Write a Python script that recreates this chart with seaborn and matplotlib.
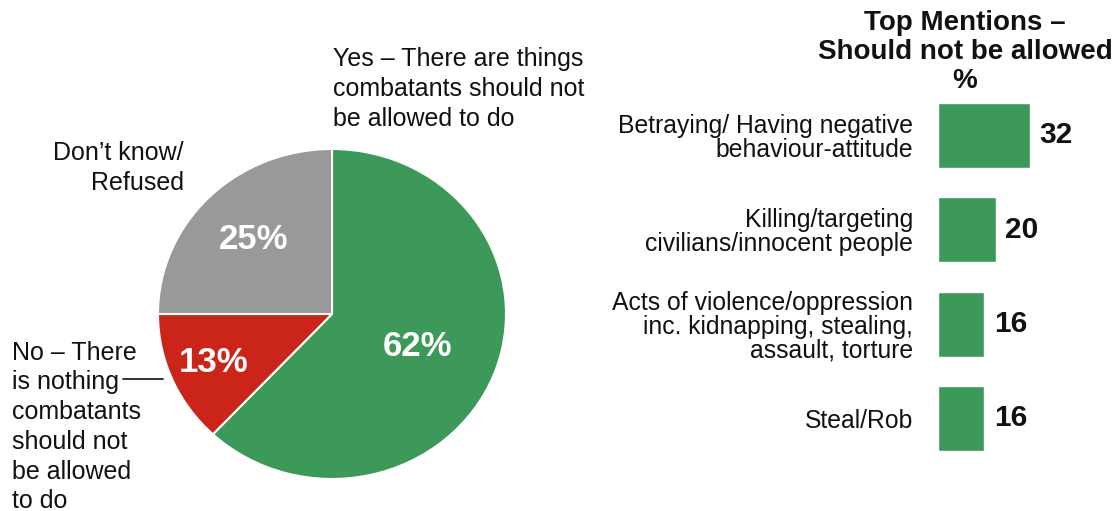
import matplotlib
matplotlib.use("Agg")
import matplotlib.pyplot as plt
import seaborn as sns
import pandas as pd
import numpy as np

# Overall answer split (pie)
answer_labels = [
    "Yes \u2013 There are things\ncombatants should not\nbe allowed to do",
    "No \u2013 There\nis nothing\ncombatants\nshould not\nbe allowed\nto do",
    "Don\u2019t know/\nRefused",
]
answer_values = [62, 13, 25]
answer_colors = ["#3d995a", "#cb2419", "#999999"]

# Top mentions (bars)
mention_labels = [
    "Betraying/ Having negative\nbehaviour-attitude",
    "Killing/targeting\ncivilians/innocent people",
    "Acts of violence/oppression\ninc. kidnapping, stealing,\nassault, torture",
    "Steal/Rob",
]
mention_values = [32, 20, 16, 16]
bar_color = "#3d995a"

W, H = 1119, 511
sns.set_theme(style="white")
plt.rcParams["font.family"] = ["Liberation Sans", "DejaVu Sans"]

fig = plt.figure(figsize=(W / 100, H / 100), dpi=100)
fig.patch.set_facecolor("white")


def fx(px):
    return px / W


def fy(py):
    return 1 - py / H


# ---- Pie ----
cx, cy, rx, ry = 332, 314, 174, 165
ax_pie = fig.add_axes([fx(cx - rx), fy(cy + ry), 2 * rx / W, 2 * ry / H])
wedges, _ = ax_pie.pie(
    answer_values,
    colors=answer_colors,
    startangle=90,
    counterclock=False,
    wedgeprops=dict(edgecolor="white", linewidth=1.5),
)
ax_pie.set_aspect("auto")
ax_pie.set_xlim(-1, 1)
ax_pie.set_ylim(-1, 1)
ax_pie.axis("off")

pct_dist = [0.53, 0.74, 0.64]
for w, v, d in zip(wedges, answer_values, pct_dist):
    mid = np.deg2rad((w.theta1 + w.theta2) / 2)
    ax_pie.text(d * np.cos(mid), d * np.sin(mid), f"{v}%", color="white",
                fontsize=25, fontweight="bold", ha="center", va="center")

label_kw = dict(fontsize=18, linespacing=1.3, color="#111111")
fig.text(fx(333), fy(89), answer_labels[0], ha="left", va="center", **label_kw)
fig.text(fx(12), fy(427), answer_labels[1], ha="left", va="center", **label_kw)
fig.text(fx(184), fy(168), answer_labels[2], ha="right", va="center",
         multialignment="right", **label_kw)
fig.add_artist(plt.Line2D([fx(123), fx(163)], [fy(379), fy(379)],
                          color="#111111", linewidth=1.2))

# ---- Bars ----
px_per_unit = 2.875
x_span = 60
row_h = 94.3
top = 135.5 - row_h / 2
ax_bar = fig.add_axes([fx(938), fy(top + 4 * row_h), x_span * px_per_unit / W, 4 * row_h / H])
df = pd.DataFrame({"mention": mention_labels, "pct": mention_values})
sns.barplot(data=df, x="pct", y="mention", orient="h", color=bar_color,
            width=0.69, saturation=1, ax=ax_bar)
ax_bar.set_xlim(0, x_span)
ax_bar.set_ylim(3.5, -0.5)
for s in ax_bar.spines.values():
    s.set_visible(False)
ax_bar.set_xticks([])
ax_bar.set_xlabel("")
ax_bar.set_ylabel("")
ax_bar.tick_params(axis="y", length=0, pad=18, labelsize=17.8, labelcolor="#111111")
for lab in ax_bar.get_yticklabels():
    lab.set_linespacing(1.0)
for cont in ax_bar.containers:
    ax_bar.bar_label(cont, fmt="%d", padding=7, fontsize=21.5, fontweight="bold", color="#111111")

fig.text(fx(965), fy(52), "Top Mentions \u2013\nShould not be allowed\n%", ha="center",
         va="center", fontsize=20, fontweight="bold", linespacing=1.14, color="#111111")

fig.savefig("out.png", dpi=100, facecolor="white")
